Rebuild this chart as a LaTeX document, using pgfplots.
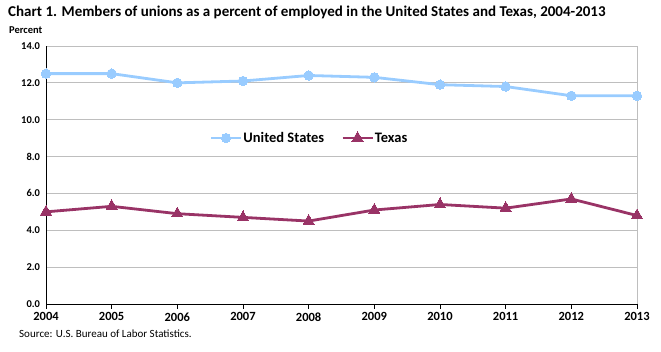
\documentclass[border=0pt]{standalone}
\usepackage{fontspec}
\setmainfont{Carlito}
\usepackage{pgfplots}
\pgfplotsset{compat=1.18}
\definecolor{usblue}{RGB}{153,204,255}
\definecolor{txred}{RGB}{153,51,102}
\definecolor{gridgray}{RGB}{190,190,190}
\begin{document}
\begin{tikzpicture}
\useasboundingbox (0pt,0pt) rectangle (661pt,352pt);
\node[anchor=west,inner sep=0pt,font=\fontsize{15}{17}\selectfont\bfseries] at (8pt,340pt) {Chart 1. Members of unions as a percent of employed in the United States and Texas, 2004-2013};
\node[anchor=west,inner sep=0pt,font=\fontsize{10.5}{12}\selectfont\bfseries] at (9pt,322pt) {Percent};
\node[anchor=west,inner sep=0pt,font=\fontsize{11}{13}\selectfont] at (19pt,18pt) {Source: U.S. Bureau of Labor Statistics.};
\begin{axis}[
  at={(46pt,48pt)}, anchor=south west,
  scale only axis, width=591pt, height=258pt,
  xmin=2004, xmax=2013, ymin=0, ymax=14,
  axis lines=left, axis line style={-,black,line width=0.9pt},
  xtick={2004,...,2013},
  ytick={0,2,...,14},
  x tick label style={font=\fontsize{12.5}{14}\selectfont\bfseries},
  y tick label style={font=\fontsize{10.5}{12}\selectfont\bfseries, /pgf/number format/.cd, fixed, fixed zerofill, precision=1},
  /pgf/number format/assume math mode=true,
  xticklabels={2004,2005,2006,2007,2008,2009,2010,2011,2012,2013},
  x tick style={black,line width=0.8pt},
  xtick align=outside, major tick length=5pt,
  y tick style={draw=none},
  ymajorgrids, grid style={gridgray,line width=0.8pt},
  legend style={draw=none, fill=none, at={(rel axis cs:0.445,0.643)}, anchor=center, legend columns=2, font=\fontsize{14.5}{16}\selectfont\bfseries, nodes={inner xsep=1pt}, /tikz/every even column/.append style={column sep=16pt}},
  legend image code/.code={\draw[mark repeat=2,mark phase=2] plot coordinates {(0pt,0pt) (15pt,0pt) (30pt,0pt)};},
  legend cell align=left,
  clip=false,
]
\draw[gridgray,line width=0.8pt] (rel axis cs:1,0) -- (rel axis cs:1,1);
\addplot[usblue, line width=2.8pt, mark=*, mark size=4.7pt, mark options={fill=usblue,draw=usblue,line width=0pt}] coordinates {
(2004,12.5) (2005,12.5) (2006,12.0) (2007,12.1) (2008,12.4) (2009,12.3) (2010,11.9) (2011,11.8) (2012,11.3) (2013,11.3)};
\addlegendentry{United States}
\addplot[txred, line width=2.8pt, mark=triangle*, mark size=6.5pt, mark options={fill=txred,draw=txred,line width=0pt}] coordinates {
(2004,5.0) (2005,5.3) (2006,4.9) (2007,4.7) (2008,4.5) (2009,5.1) (2010,5.4) (2011,5.2) (2012,5.7) (2013,4.8)};
\addlegendentry{Texas}
\end{axis}
\end{tikzpicture}
\end{document}
